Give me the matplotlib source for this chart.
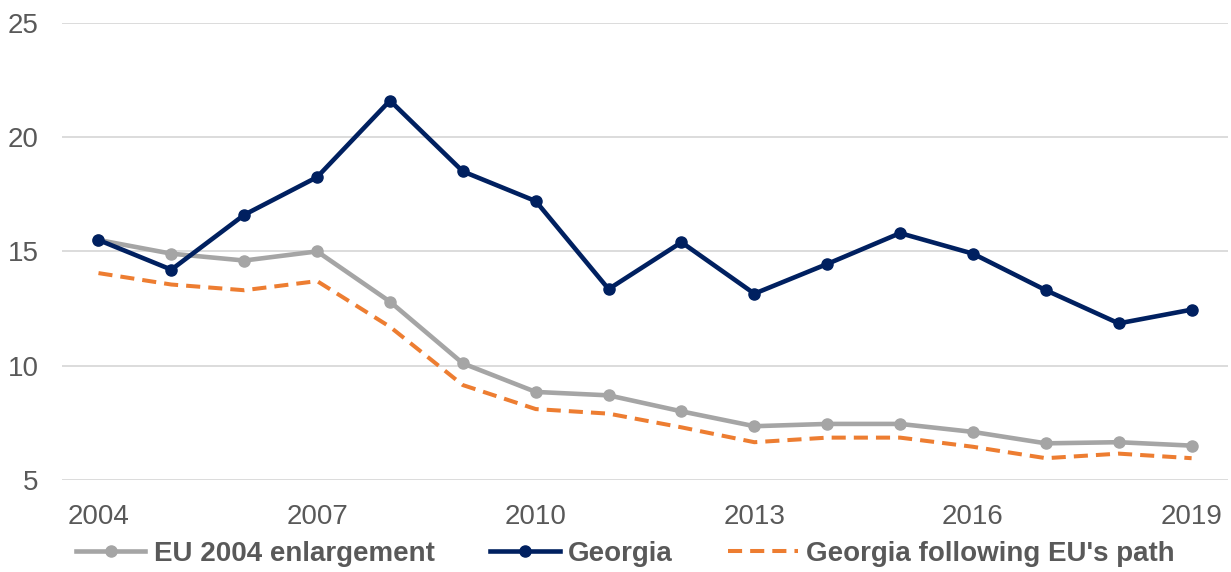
import matplotlib
matplotlib.use('Agg')
import matplotlib.pyplot as plt
import numpy as np

years = list(range(2004, 2020))
eu = [15.5, 14.9, 14.6, 15.0, 12.8, 10.1, 8.85, 8.7, 8.0, 7.35, 7.45, 7.45, 7.1, 6.6, 6.65, 6.5]
georgia = [15.5, 14.2, 16.6, 18.25, 21.6, 18.5, 17.2, 13.35, 15.4, 13.15, 14.45, 15.8, 14.9, 13.3, 11.85, 12.45]
georgia_eu_path = [14.05, 13.55, 13.3, 13.7, 11.7, 9.15, 8.1, 7.9, 7.3, 6.65, 6.85, 6.85, 6.45, 5.95, 6.15, 5.95]
labels = ['EU 2004 enlargement', 'Georgia', "Georgia following EU's path"]

plt.rcParams['font.family'] = ['Liberation Sans', 'DejaVu Sans']

fig = plt.figure(figsize=(12.31, 5.72), dpi=100)
ax = fig.add_axes([0.0504, 0.161, 0.9472, 0.799])

ax.plot(years, eu, color='#A5A5A5', lw=3.3, marker='o', ms=8, label=labels[0])
ax.plot(years, georgia, color='#002060', lw=3.3, marker='o', ms=8, label=labels[1])
ax.plot(years, georgia_eu_path, color='#ED7D31', lw=2.9, dashes=(3.5, 2.0), label=labels[2])

ax.set_xlim(2003.5, 2019.5)
ax.set_ylim(5, 25)
ax.set_yticks([5, 10, 15, 20, 25])
ax.set_xticks([2004, 2007, 2010, 2013, 2016, 2019])
ax.grid(axis='y', color='#D9D9D9', lw=1.3)
ax.set_axisbelow(True)
for s in ax.spines.values():
    s.set_visible(False)
ax.tick_params(length=0, labelsize=20, labelcolor='#595959')
ax.tick_params(axis='y', pad=17)
ax.tick_params(axis='x', pad=17)

fig.legend(loc='center', bbox_to_anchor=(0.508, 0.032), ncol=3, frameon=False,
           prop={'size': 20, 'weight': 'bold'}, labelcolor='#595959',
           handlelength=2.5, handletextpad=0.3, columnspacing=2.0)

plt.savefig('out.png', dpi=100)
